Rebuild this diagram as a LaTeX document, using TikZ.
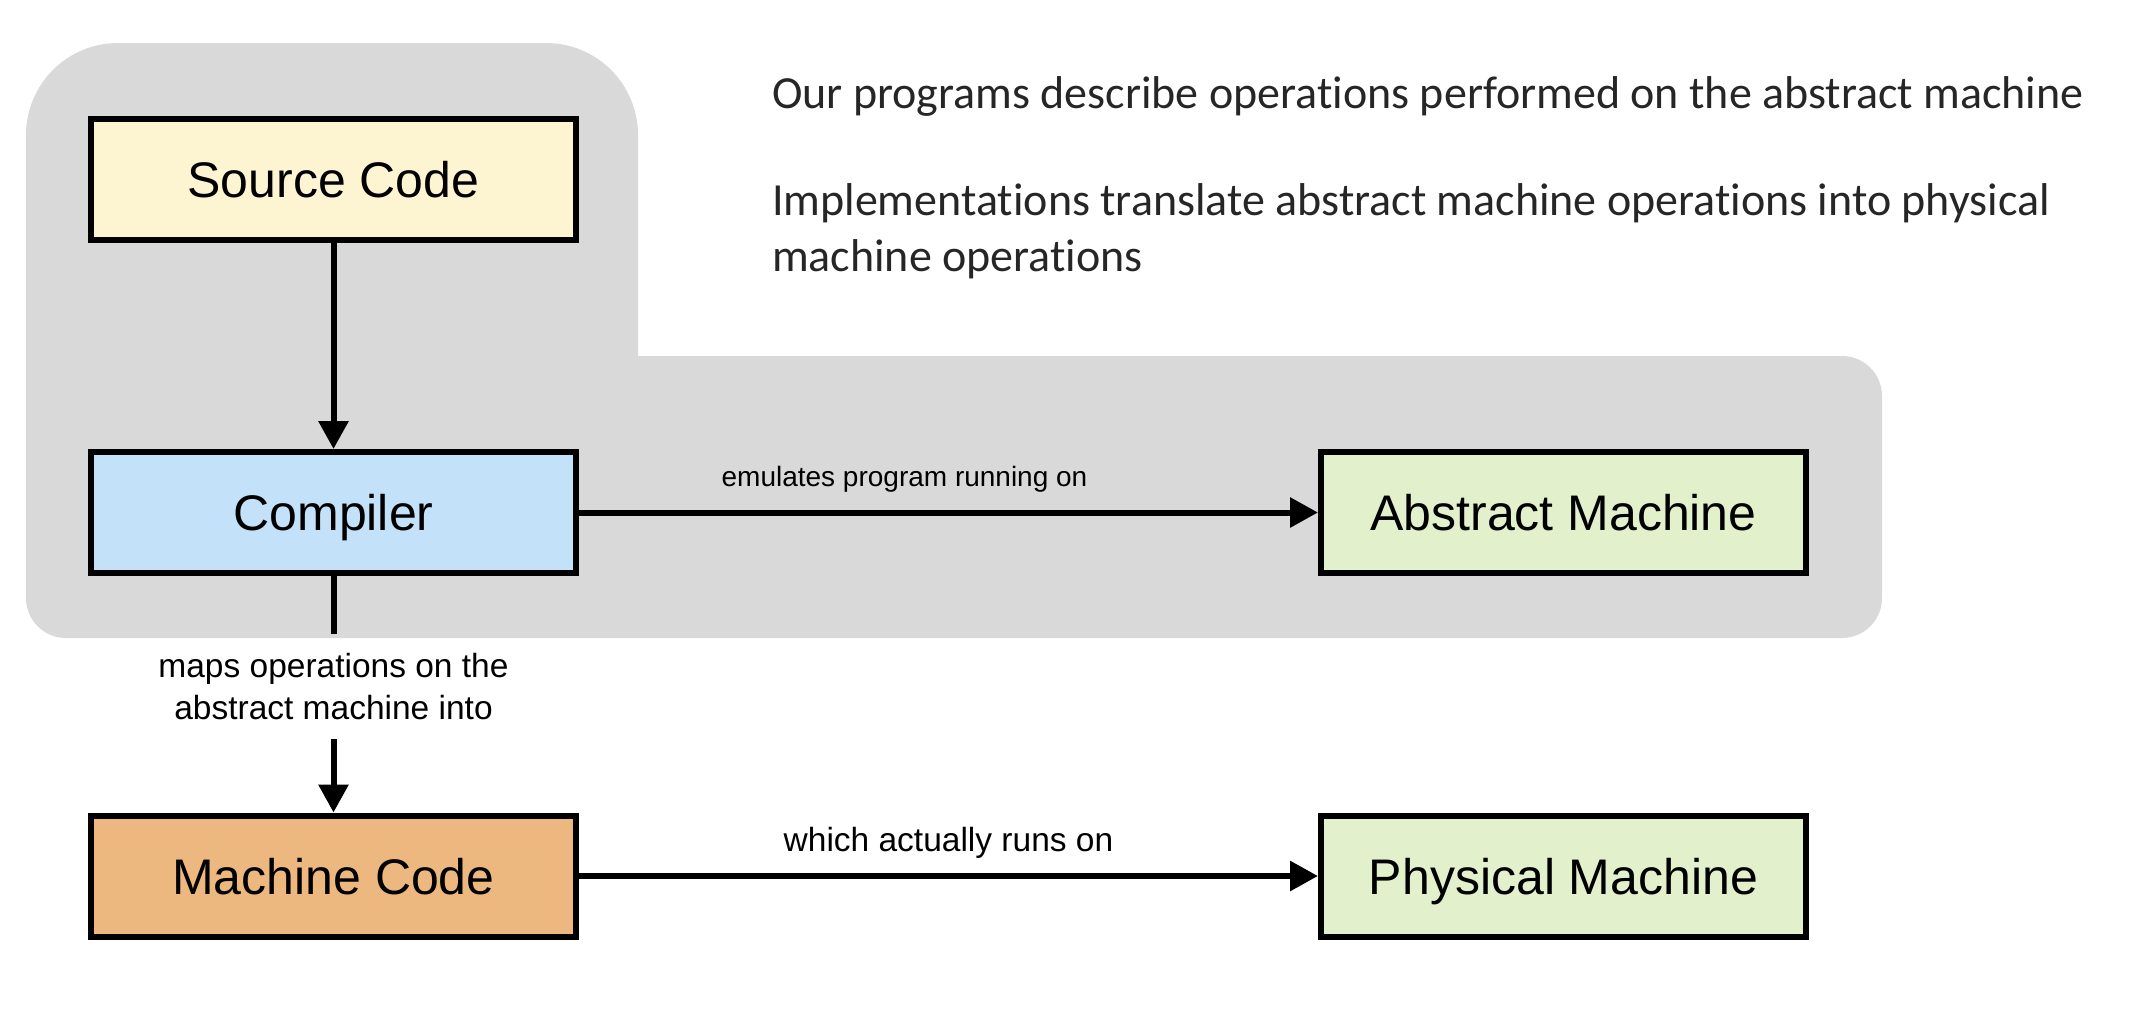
\documentclass[tikz,border=0pt]{standalone}
\usepackage{fontspec}
\setmainfont{Liberation Sans}
\newfontfamily\notefont[Ligatures=NoCommon]{Carlito}
\usetikzlibrary{arrows.meta, positioning}
\definecolor{panelgrey}{HTML}{D9D9D9}
\definecolor{srcyellow}{HTML}{FDF4D2}
\definecolor{compblue}{HTML}{C3E1F8}
\definecolor{machgreen}{HTML}{E2F0CC}
\definecolor{codeorange}{HTML}{EDB880}
\definecolor{notegrey}{HTML}{262626}

\begin{document}
\begin{tikzpicture}[x=1pt, y=-1pt, line width=6pt,
    stage/.style={draw=black, minimum width=485pt, minimum height=121pt, inner sep=0pt,
                  text height=36pt, text depth=0pt, font=\fontsize{50}{60}\selectfont},
    flow/.style={-{Triangle[width=29pt,length=28pt]}},
    edgelabel/.style={font=\fontsize{33.5}{42}\selectfont, inner sep=15pt},
    note/.style={anchor=base west, inner sep=0pt, text=notegrey, font=\notefont\fontsize{46}{56}\selectfont}]
  \useasboundingbox (0,0) rectangle (2156,1026);
  % grey panel
  \fill[panelgrey, rounded corners=92pt] (26,43) rectangle (638,600);
  \fill[panelgrey, rounded corners=40pt] (26,356) rectangle (1882,638);

  \node[stage, fill=srcyellow] (source) at (333.5,179) {Source Code};
  \node[stage, fill=compblue] (compiler) at (333.5,512.5) {Compiler};
  \node[stage, fill=machgreen] (abstract) at (1563.5,512.5) {Abstract Machine};
  \node[stage, fill=codeorange] (machcode) at (333.5,876) {Machine Code};
  \node[stage, fill=machgreen] (physical) at (1563.5,876) {Physical Machine};
  \node[edgelabel, align=center, inner sep=0pt, minimum height=99pt] (mapslabel) at (333.5,686.5)
    {maps operations on the\\abstract machine into};

  \draw[flow] (source) -- (compiler);
  \draw[flow] (compiler) -- node[edgelabel, above, inner sep=17pt, xshift=-44pt,
    font=\fontsize{28}{34}\selectfont] {emulates program running on} (abstract);
  \draw (compiler) -- (mapslabel);
  \draw[flow] (mapslabel) -- (machcode);
  \draw[flow] (machcode) -- node[edgelabel, above] {which actually runs on} (physical);

  % notes
  \node[note] (note1) at (769,108) {Our programs describe operations performed on the abstract machine};
  \node[note, align=left] (note2) at (769,271) {Implementations translate abstract machine operations into physical\\machine operations};
\end{tikzpicture}
\end{document}
